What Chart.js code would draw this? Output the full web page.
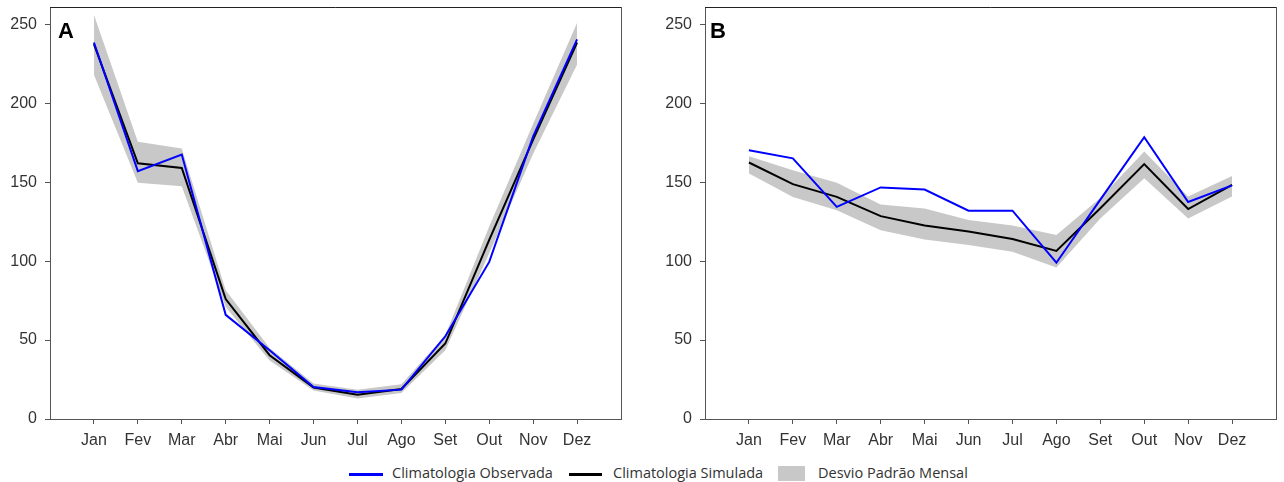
<!DOCTYPE html>
<html>
<head>
<meta charset="utf-8">
<script src="https://cdn.jsdelivr.net/npm/chart.js@4.4.1/dist/chart.umd.min.js"></script>
<style>
  html, body { margin: 0; padding: 0; background: #ffffff; }
  #wrap { position: relative; width: 1284px; height: 482px; overflow: hidden; background: #fff; }
  canvas { position: absolute; top: 0; }
  #cA { left: 0; }
  #cB { left: 655px; }
  .legend { position: absolute; top: 464px; left: 0; width: 1284px; height: 18px;
            font-family: "Open Sans", "Liberation Sans", sans-serif; font-size: 14.5px; color: #333; }
  .legend span { position: absolute; white-space: nowrap; line-height: 18px; top: 0; }
  .legend .ln { position: absolute; height: 3px; top: 8.5px; }
  .legend .bx { position: absolute; height: 15px; top: 1.5px; background: #c8c8c8; }
</style>
</head>
<body>
<div id="wrap">
  <canvas id="cA" width="640" height="460"></canvas>
  <canvas id="cB" width="629" height="460"></canvas>
  <div class="legend">
    <div class="ln" style="left:349px;width:34px;background:#0000ff;"></div>
    <span style="left:392px;">Climatologia Observada</span>
    <div class="ln" style="left:569px;width:33px;background:#000;"></div>
    <span style="left:613px;">Climatologia Simulada</span>
    <div class="bx" style="left:778px;width:27px;"></div>
    <span style="left:818px;">Desvio Padrão Mensal</span>
  </div>
</div>
<script>
// Month labels shown on the x axis
const months = ['Jan', 'Fev', 'Mar', 'Abr', 'Mai', 'Jun', 'Jul', 'Ago', 'Set', 'Out', 'Nov', 'Dez'];
// Y axis tick values
const yTicks = [0, 50, 100, 150, 200, 250];

// Panel A
const obsA    = [238.5, 157.0, 167.5, 66.0, 43.5, 20.3, 17.0, 18.6, 52.4, 99.5, 179.0, 240.5];
const simA    = [237.5, 162.0, 159.0, 76.0, 40.4, 20.0, 15.3, 19.0, 47.8, 113.5, 177.0, 238.5];
const sdLowA  = [218.0, 149.6, 147.5, 71.0, 37.0, 18.0, 13.0, 16.5, 43.5, 105.0, 168.0, 224.5];
const sdHighA = [256.0, 175.6, 171.4, 81.5, 45.0, 22.5, 18.5, 22.0, 53.0, 122.0, 187.0, 251.0];

// Panel B
const obsB    = [170.3, 165.1, 134.4, 146.7, 145.4, 132.0, 132.0, 99.0, 139.0, 178.5, 137.5, 148.0];
const simB    = [162.5, 148.8, 140.7, 128.5, 122.6, 118.8, 114.0, 106.5, 133.5, 161.5, 133.0, 148.3];
const sdLowB  = [155.6, 140.7, 132.3, 119.6, 113.7, 110.3, 106.0, 96.0, 127.0, 152.5, 127.0, 141.0];
const sdHighB = [166.5, 157.6, 149.6, 135.9, 133.4, 126.0, 122.6, 116.5, 140.0, 169.5, 141.0, 154.0];

const toXY = arr => arr.map((v, i) => ({ x: i + 1, y: v }));

// Frame (top/right edges) and the panel letter
const framePlugin = {
  id: 'frame',
  afterDraw(chart, args, opts) {
    const { ctx, chartArea: a } = chart;
    ctx.save();
    ctx.lineWidth = 1;
    ctx.strokeStyle = '#222';
    ctx.beginPath();
    ctx.moveTo(a.left, a.top + 0.5);
    ctx.lineTo(a.right + 0.5, a.top + 0.5);
    ctx.stroke();
    ctx.strokeStyle = '#555';
    ctx.beginPath();
    ctx.moveTo(a.right + 0.5, a.top);
    ctx.lineTo(a.right + 0.5, a.bottom);
    ctx.stroke();
    ctx.fillStyle = '#000';
    ctx.font = 'bold 22px "Liberation Sans", Arial, sans-serif';
    ctx.textBaseline = 'alphabetic';
    ctx.textAlign = 'left';
    ctx.fillText(opts.letter, a.left + opts.dx, a.top + 31);
    ctx.restore();
  }
};

function makeChart(id, letter, dx, padRight, obs, sim, lo, hi) {
  const ctx = document.getElementById(id).getContext('2d');
  return new Chart(ctx, {
    type: 'line',
    data: {
      datasets: [
        { label: 'Climatologia Observada', data: toXY(obs), borderColor: '#0000ff', borderWidth: 2,
          pointRadius: 0, tension: 0, fill: false, order: 0 },
        { label: 'Climatologia Simulada', data: toXY(sim), borderColor: '#000000', borderWidth: 2,
          pointRadius: 0, tension: 0, fill: false, order: 1 },
        { label: 'sd-low', data: toXY(lo), borderWidth: 0, borderColor: 'rgba(0,0,0,0)',
          pointRadius: 0, tension: 0, fill: false, order: 3 },
        { label: 'Desvio Padrão Mensal', data: toXY(hi), borderWidth: 0, borderColor: 'rgba(0,0,0,0)',
          backgroundColor: '#c8c8c8', pointRadius: 0, tension: 0, fill: '-1', order: 2 }
      ]
    },
    options: {
      responsive: false,
      animation: false,
      events: [],
      layout: { padding: { top: 7, right: padRight, left: 0, bottom: 0 } },
      plugins: {
        legend: { display: false },
        tooltip: { enabled: false },
        filler: { propagate: false },
        frame: { letter: letter, dx: dx }
      },
      scales: {
        x: {
          type: 'linear', min: 0, max: 13,
          afterBuildTicks: s => { s.ticks = months.map((m, i) => ({ value: i + 1 })); },
          afterFit: s => { s.height = 41; },
          grid: { display: true, drawOnChartArea: false, drawTicks: true, tickLength: 5, color: '#555' },
          border: { display: true, color: '#555', width: 1 },
          ticks: {
            autoSkip: false, maxRotation: 0, padding: 7, color: '#333',
            font: { family: '"Liberation Sans", Arial, sans-serif', size: 16 },
            callback: v => months[v - 1]
          }
        },
        y: {
          type: 'linear', min: 0, max: 261,
          afterBuildTicks: s => { s.ticks = yTicks.map(v => ({ value: v })); },
          afterFit: s => { s.width = 50; s.paddingTop = 0; s.paddingBottom = 0; },
          grid: { display: true, drawOnChartArea: false, drawTicks: true, tickLength: 5, color: '#555' },
          border: { display: true, color: '#555', width: 1 },
          ticks: {
            padding: 8, color: '#333',
            font: { family: '"Liberation Sans", Arial, sans-serif', size: 16 }
          }
        }
      }
    },
    plugins: [framePlugin]
  });
}

makeChart('cA', 'A', 8, 19, obsA, simA, sdLowA, sdHighA);
makeChart('cB', 'B', 5, 8, obsB, simB, sdLowB, sdHighB);
</script>
</body>
</html>
